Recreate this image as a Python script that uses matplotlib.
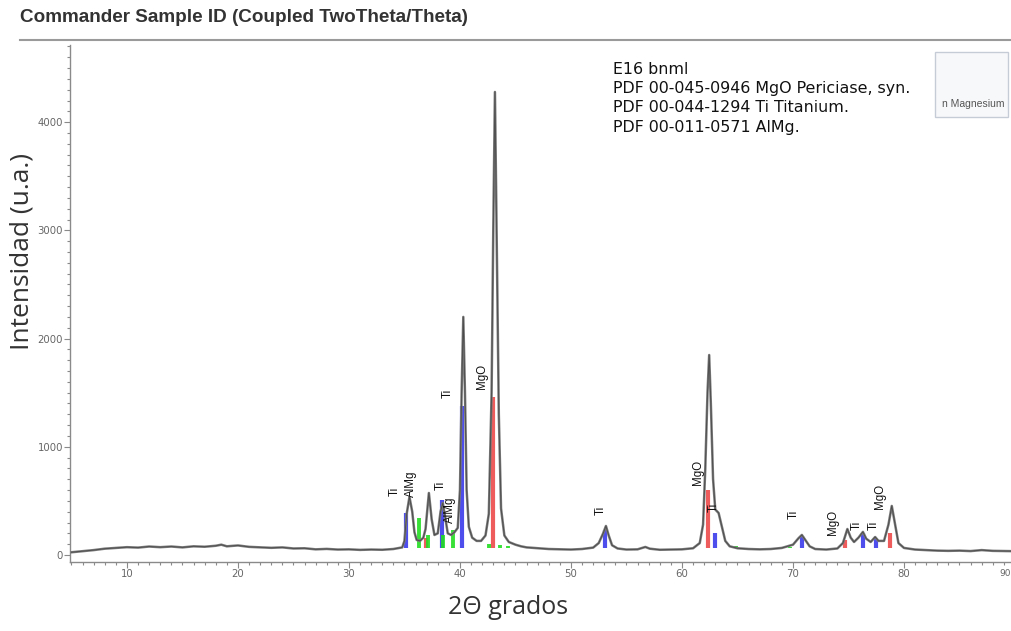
import matplotlib
matplotlib.use("Agg")
import matplotlib.pyplot as plt
from matplotlib.lines import Line2D
from matplotlib.patches import Rectangle

# ---------------- data ----------------
two_theta = [5, 6, 7, 8, 9, 10, 11, 12, 13, 14, 15, 16, 17, 18, 18.5, 19, 20, 21, 22, 23,
             24, 25, 26, 27, 28, 29, 30, 31, 32, 33, 34, 34.8,
             35.0, 35.2, 35.45, 35.7, 35.9, 36.1, 36.4, 36.7, 36.9, 37.2, 37.45, 37.7,
             38.0, 38.25, 38.45, 38.7, 38.9, 39.2, 39.5, 39.8, 40.0, 40.15, 40.3, 40.45,
             40.6, 40.8, 41.1, 41.5, 41.9, 42.3, 42.6, 42.85, 43.0, 43.15, 43.3, 43.5,
             43.7, 44.0, 44.4, 45, 45.5, 46, 47, 48, 49, 50, 51, 52, 52.5, 52.9, 53.15,
             53.4, 53.7, 54.2, 55, 56, 56.7, 57.1, 58, 59, 60, 61, 61.6, 61.9, 62.1, 62.3,
             62.45, 62.6, 62.8, 63.0, 63.3, 63.6, 63.9, 64.3, 65, 66, 67, 68, 69, 70,
             70.5, 70.8, 71.1, 71.5, 72, 73, 74, 74.5, 74.9, 75.2, 75.5, 75.9, 76.3,
             76.6, 77.0, 77.4, 77.7, 78.2, 78.6, 78.9, 79.2, 79.5, 80, 81, 82, 83, 84,
             85, 86, 87, 88, 89, 90]
counts = [25, 35, 45, 58, 65, 72, 68, 78, 72, 78, 70, 80, 76, 85, 95, 80, 88, 75, 70, 66,
          70, 60, 62, 52, 56, 50, 52, 47, 50, 48, 55, 70,
          130, 380, 536, 400, 210, 139, 130, 160, 240, 573, 330, 185,
          200, 400, 480, 330, 200, 185, 210, 250, 600, 1500, 2200, 1500,
          600, 260, 160, 130, 130, 180, 380, 1500, 3000, 4279, 3000, 1300,
          430, 180, 120, 95, 80, 70, 62, 55, 52, 50, 55, 68, 110, 200, 268,
          180, 90, 60, 50, 52, 74, 58, 48, 50, 52, 62, 110, 280, 800, 1500,
          1848, 1400, 700, 420, 388, 260, 130, 80, 62, 55, 52, 55, 65, 95,
          155, 185, 140, 80, 55, 50, 60, 110, 240, 160, 120, 160, 213,
          150, 120, 166, 130, 130, 280, 453, 280, 110, 65, 50, 45, 40, 38,
          40, 36, 45, 38, 36, 35]

mgo_pos = [36.9, 42.95, 62.3, 74.7, 78.7]
mgo_int = [157, 1460, 600, 139, 203]
ti_pos = [35.1, 38.4, 40.2, 53.1, 63.0, 70.8, 76.3, 77.5]
ti_int = [388, 508, 1377, 231, 203, 175, 205, 150]
almg_pos = [36.3, 37.15, 38.5, 39.4, 42.6, 43.6, 44.3, 64.9, 67.0, 69.7]
almg_int = [342, 185, 185, 231, 100, 90, 80, 85, 65, 75]

label_text = ["Ti", "AlMg", "Ti", "AlMg", "Ti", "MgO", "Ti", "MgO", "Ti", "Ti",
              "MgO", "Ti", "Ti", "MgO"]
label_x = [34.1, 35.6, 38.3, 39.1, 38.9, 42.0, 52.7, 61.4, 62.9, 70.1, 73.6, 75.7, 77.3, 77.8]
label_y = [590, 656, 647, 416, 1497, 1654, 416, 767, 444, 379, 305, 277, 277, 545]

legend_lines = ["E16 bnml",
                "PDF 00-045-0946 MgO Periciase, syn.",
                "PDF 00-044-1294 Ti Titanium.",
                "PDF 00-011-0571 AlMg."]

x_major = [10, 20, 30, 40, 50, 60, 70, 80]
y_major = [0, 1000, 2000, 3000, 4000]
y_labels = ["0", "1000", "2000", "3000", "4000"]

# ---------------- figure ----------------
W, H = 1011, 631
fig = plt.figure(figsize=(W / 100, H / 100), dpi=100)
fig.patch.set_facecolor("white")

ax = fig.add_axes([70 / W, 1 - 562 / H, (1011 - 70) / W, (562 - 45) / H])
ax.set_xlim(4.87, 89.64)
ax.set_ylim(-65, 4713)

stick_base = 60
ax.vlines(ti_pos, stick_base, ti_int, colors="#3b3bea", linewidth=3.0, alpha=0.9, zorder=2)
ax.vlines(mgo_pos, stick_base, mgo_int, colors="#ee4a4a", linewidth=3.0, alpha=0.9, zorder=2)
ax.vlines(almg_pos, stick_base, almg_int, colors="#22dd22", linewidth=2.8, alpha=0.9, zorder=2)

ax.plot(two_theta, counts, color="#7a7a7a", linewidth=1.8, zorder=3,
        solid_joinstyle="round")
ax.plot(two_theta, counts, color="#4a4a4a", linewidth=0.6, zorder=3)

for t, x, y in zip(label_text, label_x, label_y):
    ax.text(x, y, t, rotation=90, ha="center", va="center", fontsize=8.3,
            family="Liberation Sans", color="#111111", zorder=4)

for s in ["top", "right"]:
    ax.spines[s].set_visible(False)
for s in ["left", "bottom"]:
    ax.spines[s].set_color("#8a8a8a")
    ax.spines[s].set_linewidth(1.0)

ax.set_xticks(x_major)
ax.set_xticks([v for v in range(5, 90)], minor=True)
ax.set_yticks(y_major)
ax.set_yticklabels(y_labels)
ax.set_yticks([v for v in range(0, 4701, 100)], minor=True)
ax.tick_params(axis="both", which="major", length=4, width=0.8, color="#8a8a8a",
               labelsize=7.3, labelcolor="#666666", pad=1)
ax.tick_params(axis="both", which="minor", length=2.5, width=0.8, color="#8a8a8a")
fig.text(1011 / W, 1 - 573 / H, "90", ha="right", va="center",
         fontsize=6.5, color="#666666")

# axis labels
fig.text(22 / W, 1 - 251 / H, "Intensidad (u.a.)", rotation=90, ha="center", va="center",
         fontsize=19, family="Open Sans", color="#333333")
fig.text(508 / W, 1 - 608 / H, "2Θ grados", ha="center", va="center",
         fontsize=18, family="Open Sans", color="#333333")

# title and rule
fig.text(20 / W, 1 - 18 / H, "Commander Sample ID (Coupled TwoTheta/Theta)",
         ha="left", va="center", fontsize=13.6, fontweight="bold",
         family="Liberation Sans", color="#333333")
fig.add_artist(Line2D([20 / W, 1.0], [1 - 40 / H, 1 - 40 / H], color="#9a9a9a",
                      linewidth=1.5, transform=fig.transFigure))

# phase list
for i, line in enumerate(legend_lines):
    fig.text(613 / W, 1 - (70 + 19 * i) / H, line, ha="left", va="center",
             fontsize=11.4, family="DejaVu Sans", color="#111111")

# cropped side box
fig.add_artist(Rectangle((935 / W, 1 - 117 / H), (1008 - 935) / W, (117 - 52) / H,
                         transform=fig.transFigure, facecolor="#f7f8fa",
                         edgecolor="#c5ccd6", linewidth=1.0))
fig.text(1005 / W, 1 - 104 / H, "n Magnesium", ha="right", va="center",
         fontsize=7.5, family="Liberation Sans", color="#555555")

fig.savefig("out.png", dpi=100, facecolor="white")
